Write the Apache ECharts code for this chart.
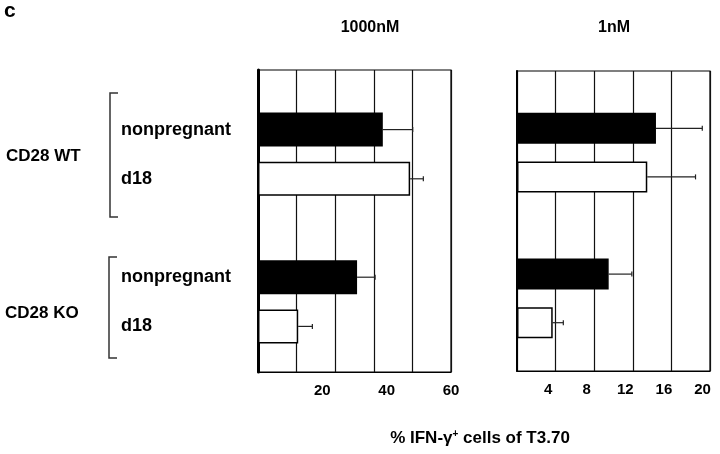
<!DOCTYPE html>
<html>
<head>
<meta charset="utf-8">
<script src="https://cdn.jsdelivr.net/npm/echarts@6/dist/echarts.min.js"></script>
<style>
  html, body { margin: 0; padding: 0; background: #fff; }
  #chart { width: 720px; height: 454px; }
</style>
</head>
<body>
<div id="chart"></div>
<script>
// rows of each panel (the blank row is the gap between WT and KO)
var rows = ['nonpregnant', 'd18', '', 'nonpregnant', 'd18'];
var groups = ['CD28 WT', 'CD28 KO'];
// % IFN-g+ cells, 1000nM panel
var dose1000 = [38.8, 47.3, null, 30.8, 12.5];
var dose1000Err = [9.3, 4.1, null, 5.6, 4.4];
// % IFN-g+ cells, 1nM panel
var dose1 = [14.4, 13.5, null, 9.5, 3.7];
var dose1Err = [4.8, 5.0, null, 2.4, 1.1];
// axis tick labels
var ticks1000 = [20, 40, 60];
var ticks1 = [4, 8, 12, 16, 20];

var FONT = '"Liberation Sans", Arial, sans-serif';

var chart = echarts.init(document.getElementById('chart'), null, {renderer: 'canvas'});

function barData(vals) {
	return vals.map(function (v, i) {
		if (v == null) return '-';
		var filled = rows[i] === 'nonpregnant';
		return {
			value: v,
			itemStyle: {
				color: filled ? '#000' : '#fff',
				borderColor: '#000',
				borderWidth: 1.5
			}
		};
	});
}

function errData(vals, errs) {
	var out = [];
	vals.forEach(function (v, i) {
		if (v != null) out.push([v, i, errs[i]]);
	});
	return out;
}

function renderErr(params, api) {
	var idx = api.value(1);
	var p0 = api.coord([api.value(0), idx]);
	var p1 = api.coord([api.value(0) + api.value(2), idx]);
	var st = {stroke: '#222', lineWidth: 1.2};
	return {
		type: 'group',
		children: [
			{type: 'line', shape: {x1: p0[0], y1: p0[1], x2: p1[0], y2: p1[1]}, style: st},
			{type: 'line', shape: {x1: p1[0], y1: p1[1] - 2.5, x2: p1[0], y2: p1[1] + 2.5}, style: st}
		]
	};
}

function tickFormatter(list) {
	return function (v) {
		return list.indexOf(v) >= 0 ? String(v) : '';
	};
}

var tickFont = {color: '#000', fontFamily: FONT, fontWeight: 'bold', fontSize: 15};

var option = {
	animation: false,
	backgroundColor: '#fff',
	grid: [
		// frames
		{left: 258, top: 70, width: 193, height: 302, show: true, borderColor: '#000', borderWidth: 1.2, backgroundColor: 'transparent'},
		{left: 517, top: 71, width: 193, height: 300, show: true, borderColor: '#000', borderWidth: 1.2, backgroundColor: 'transparent'},
		// bars
		{left: 258, top: 105, width: 193, height: 246},
		{left: 517, top: 104, width: 193, height: 243}
	],
	xAxis: [
		{
			type: 'value', gridIndex: 0, position: 'bottom', min: 0, max: 60, interval: 12,
			axisLine: {show: true, onZero: false, lineStyle: {color: '#000', width: 1.2}},
			axisTick: {show: false},
			axisLabel: {show: false},
			splitLine: {show: true, lineStyle: {color: '#111', width: 1.2}}
		},
		{
			type: 'value', gridIndex: 1, position: 'bottom', min: 0, max: 20, interval: 4,
			axisLine: {show: true, onZero: false, lineStyle: {color: '#000', width: 1.2}},
			axisTick: {show: false},
			axisLabel: Object.assign({
				show: true, margin: 11,
				padding: [0, 15, 0, 0],
				formatter: tickFormatter(ticks1)
			}, tickFont),
			splitLine: {show: true, lineStyle: {color: '#111', width: 1.2}}
		},
		// labels of 1000nM panel
		{
			type: 'value', gridIndex: 0, position: 'bottom', offset: 0, min: 0, max: 60, interval: 20,
			axisLine: {show: false}, axisTick: {show: false}, splitLine: {show: false},
			axisLabel: Object.assign({
				show: true, margin: 11,
				formatter: tickFormatter(ticks1000)
			}, tickFont)
		},
		{type: 'value', gridIndex: 2, min: 0, max: 60, show: false},
		{type: 'value', gridIndex: 3, min: 0, max: 20, show: false}
	],
	yAxis: [
		{type: 'value', gridIndex: 0, min: 0, max: 1, axisLine: {show: true, lineStyle: {color: '#000', width: 3}}, axisTick: {show: false}, axisLabel: {show: false}, splitLine: {show: false}},
		{type: 'value', gridIndex: 1, min: 0, max: 1, axisLine: {show: true, lineStyle: {color: '#000', width: 2}}, axisTick: {show: false}, axisLabel: {show: false}, splitLine: {show: false}},
		{
			type: 'category', gridIndex: 2, data: rows, inverse: true,
			axisLine: {show: false}, axisTick: {show: false}, splitLine: {show: false},
			axisLabel: {
				show: true, margin: 137, align: 'left',
				color: '#000', fontFamily: FONT, fontWeight: 'bold', fontSize: 18
			}
		},
		{
			type: 'category', gridIndex: 3, data: rows, inverse: true,
			axisLine: {show: false}, axisTick: {show: false}, axisLabel: {show: false}, splitLine: {show: false}
		}
	],
	series: [
		{type: 'bar', xAxisIndex: 3, yAxisIndex: 2, barWidth: 34, data: barData(dose1000), z: 3},
		{type: 'custom', xAxisIndex: 3, yAxisIndex: 2, renderItem: renderErr, data: errData(dose1000, dose1000Err), z: 2, encode: {x: 0, y: 1}},
		{type: 'bar', xAxisIndex: 4, yAxisIndex: 3, barWidth: 31, data: barData(dose1), z: 3},
		{type: 'custom', xAxisIndex: 4, yAxisIndex: 3, renderItem: renderErr, data: errData(dose1, dose1Err), z: 2, encode: {x: 0, y: 1}}
	],
	graphic: [
		{type: 'text', left: 4, top: 1, style: {text: 'c', font: 'bold 21px ' + FONT, fill: '#000'}},
		{type: 'text', x: 370, y: 28, style: {text: '1000nM', font: 'bold 16px ' + FONT, fill: '#000', align: 'center', verticalAlign: 'middle'}},
		{type: 'text', x: 614, y: 28, style: {text: '1nM', font: 'bold 16px ' + FONT, fill: '#000', align: 'center', verticalAlign: 'middle'}},
		{type: 'text', x: 6, y: 156, style: {text: groups[0], font: 'bold 17px ' + FONT, fill: '#000', verticalAlign: 'middle'}},
		{type: 'text', x: 5, y: 313, style: {text: groups[1], font: 'bold 17px ' + FONT, fill: '#000', verticalAlign: 'middle'}},
		{type: 'polyline', shape: {points: [[118, 93], [110, 93], [110, 217], [118, 217]]}, style: {stroke: '#333', lineWidth: 1.5, fill: null}},
		{type: 'polyline', shape: {points: [[117, 257], [109, 257], [109, 358], [117, 358]]}, style: {stroke: '#333', lineWidth: 1.5, fill: null}},
		{
			type: 'text', x: 480, y: 438,
			style: {
				text: '% IFN-γ{sup|+} cells of T3.70',
				font: 'bold 17px ' + FONT, fill: '#000', align: 'center', verticalAlign: 'middle',
				rich: {sup: {fontSize: 10, fontWeight: 'bold', fontFamily: FONT, verticalAlign: 'top', padding: [0, 0, 6, 0]}}
			}
		}
	]
};

chart.setOption(option);
</script>
</body>
</html>
